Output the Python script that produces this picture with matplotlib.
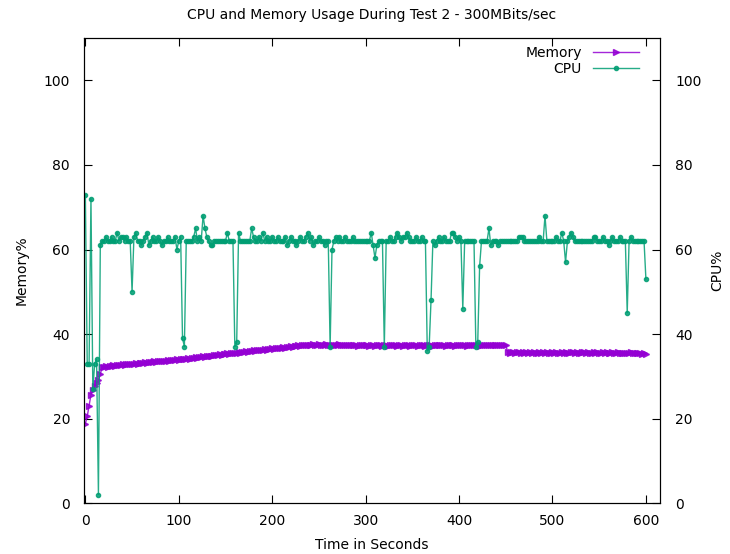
import matplotlib
matplotlib.use("Agg")
import matplotlib.pyplot as plt
import numpy as np

# samples every 2 seconds, t = 0 .. 600
cpu = [
    73, 33, 33, 72, 27, 33, 34, 2, 61, 62,
    62, 63, 62, 62, 63, 62, 62, 64, 62, 63,
    63, 62, 63, 62, 62, 50, 63, 64, 62, 62,
    61, 62, 63, 64, 61, 62, 63, 62, 62, 63,
    62, 61, 62, 62, 63, 62, 62, 62, 63, 60,
    62, 63, 39, 37, 62, 62, 62, 62, 63, 65,
    62, 63, 62, 68, 65, 63, 62, 61, 61, 62,
    62, 62, 62, 62, 62, 62, 64, 62, 62, 62,
    37, 38, 64, 62, 62, 62, 62, 62, 62, 65,
    63, 62, 62, 63, 62, 64, 62, 63, 62, 62,
    63, 62, 62, 63, 62, 62, 62, 63, 61, 62,
    63, 62, 62, 61, 62, 63, 62, 62, 63, 64,
    62, 63, 61, 62, 62, 63, 62, 62, 61, 62,
    62, 37, 60, 62, 63, 62, 63, 62, 62, 63,
    62, 62, 62, 63, 62, 62, 62, 62, 62, 62,
    62, 62, 62, 64, 61, 58, 61, 62, 62, 62,
    37, 62, 62, 63, 62, 62, 63, 64, 63, 62,
    63, 63, 64, 63, 62, 62, 62, 63, 62, 62,
    63, 62, 62, 36, 37, 48, 62, 61, 62, 63,
    62, 62, 63, 62, 62, 62, 64, 64, 63, 62,
    63, 62, 46, 62, 62, 62, 62, 62, 62, 37,
    38, 56, 62, 62, 62, 62, 65, 61, 62, 62,
    62, 61, 62, 62, 62, 62, 62, 62, 62, 62,
    62, 62, 63, 63, 63, 62, 62, 62, 62, 62,
    62, 62, 62, 63, 62, 62, 68, 62, 62, 62,
    62, 62, 63, 62, 62, 64, 62, 57, 62, 63,
    64, 63, 62, 62, 62, 62, 62, 62, 62, 62,
    62, 62, 63, 63, 62, 62, 62, 63, 62, 62,
    61, 62, 63, 62, 62, 62, 63, 62, 62, 62,
    45, 62, 63, 62, 62, 62, 62, 62, 62, 62,
    53,
]

memory = [
    18.8, 20.5, 23.0, 25.6, 26.8, 27.7, 28.3, 29.1, 30.5, 32.2,
    32.3, 32.4, 32.3, 32.5, 32.4, 32.6, 32.5, 32.6, 32.7, 32.6,
    32.8, 32.7, 32.9, 32.8, 33.0, 32.9, 33.0, 33.1, 33.0, 33.2,
    33.1, 33.2, 33.3, 33.2, 33.4, 33.3, 33.4, 33.5, 33.4, 33.5,
    33.6, 33.5, 33.7, 33.6, 33.8, 33.7, 33.8, 33.9, 33.8, 34.0,
    33.9, 34.1, 34.0, 34.2, 34.1, 34.3, 34.2, 34.4, 34.3, 34.5,
    34.4, 34.6, 34.5, 34.7, 34.6, 34.8, 34.7, 34.9, 34.8, 35.0,
    35.0, 35.1, 35.2, 35.1, 35.3, 35.2, 35.4, 35.3, 35.5, 35.4,
    35.6, 35.5, 35.7, 35.6, 35.8, 35.7, 35.9, 35.8, 36.0, 35.9,
    36.1, 36.0, 36.2, 36.1, 36.3, 36.2, 36.4, 36.3, 36.5, 36.4,
    36.6, 36.5, 36.7, 36.6, 36.8, 36.7, 36.9, 36.8, 37.0, 36.9,
    37.1, 37.0, 37.2, 37.1, 37.3, 37.2, 37.4, 37.3, 37.5, 37.4,
    37.5, 37.4, 37.6, 37.5, 37.4, 37.6, 37.5, 37.4, 37.5, 37.6,
    37.5, 37.4, 37.5, 37.3, 37.5, 37.4, 37.6, 37.4, 37.3, 37.5,
    37.4, 37.3, 37.5, 37.4, 37.3, 37.4, 37.2, 37.4, 37.3, 37.5,
    37.3, 37.4, 37.2, 37.3, 37.4, 37.2, 37.3, 37.5, 37.3, 37.2,
    37.4, 37.3, 37.2, 37.4, 37.3, 37.5, 37.3, 37.2, 37.4, 37.3,
    37.2, 37.4, 37.3, 37.5, 37.2, 37.3, 37.4, 37.3, 37.2, 37.4,
    37.3, 37.4, 37.2, 37.3, 37.5, 37.3, 37.2, 37.4, 37.3, 37.4,
    37.5, 37.3, 37.4, 37.2, 37.3, 37.5, 37.4, 37.3, 37.2, 37.4,
    37.3, 37.4, 37.5, 37.3, 37.2, 37.4, 37.3, 37.5, 37.4, 37.3,
    37.4, 37.2, 37.3, 37.5, 37.4, 37.3, 37.4, 37.5, 37.3, 37.4,
    37.5, 37.3, 37.4, 37.5, 37.3, 37.4, 35.8, 35.6, 35.7, 35.8,
    35.6, 35.7, 35.8, 35.6, 35.7, 35.5, 35.7, 35.6, 35.8, 35.6,
    35.7, 35.6, 35.5, 35.7, 35.6, 35.8, 35.6, 35.7, 35.5, 35.6,
    35.7, 35.6, 35.8, 35.6, 35.5, 35.7, 35.6, 35.7, 35.5, 35.6,
    35.7, 35.8, 35.6, 35.7, 35.5, 35.6, 35.7, 35.8, 35.6, 35.7,
    35.5, 35.6, 35.7, 35.6, 35.8, 35.6, 35.5, 35.7, 35.6, 35.7,
    35.6, 35.5, 35.7, 35.6, 35.5, 35.7, 35.6, 35.5, 35.6, 35.4,
    35.6, 35.5, 35.7, 35.5, 35.6, 35.4, 35.6, 35.5, 35.3, 35.4,
    35.2,
]

t = np.arange(len(cpu)) * 2

mem_color = '#9400D3'
cpu_color = '#009E73'

fig = plt.figure(figsize=(7.3, 5.54), dpi=100)
ax = fig.add_axes([0.115, 0.092, 0.789, 0.839])
ax2 = ax.twinx()

lm, = ax.plot(t, memory, '-', color=mem_color, lw=1, marker='>', ms=4,
              label='Memory')
lc, = ax2.plot(t, cpu, '-', color=cpu_color, lw=1, marker='o', ms=3,
               label='CPU')
for line in (lm, lc):
    line.set_alpha(0.85)

ax.set_xlim(-1.5, 615)
ax.set_ylim(0, 110)
ax2.set_ylim(0, 110)
ax.set_xticks(range(0, 601, 100))
ax.set_yticks(range(0, 101, 20))
ax2.set_yticks(range(0, 101, 20))

ax.tick_params(axis='x', direction='in', length=6, top=True, labelsize=10, pad=8)
ax.tick_params(axis='y', direction='in', length=6, right=False, labelsize=10, pad=10)
ax2.tick_params(direction='in', length=6, labelsize=10, pad=11)

ax.set_xlabel('Time in Seconds', fontsize=10, labelpad=7)
ax.set_ylabel('Memory%', fontsize=10, labelpad=11)
ax2.set_ylabel('CPU%', fontsize=10, labelpad=6)
ax.set_title('CPU and Memory Usage During Test 2 - 300MBits/sec', fontsize=10, pad=14)

ax2.legend([lm, lc], ['Memory', 'CPU'], loc='upper right', frameon=False,
           markerfirst=False, handlelength=3.3, numpoints=1, fontsize=10,
           labelspacing=0.15, bbox_to_anchor=(0.985, 1.01))

fig.savefig('out.png', dpi=100)
